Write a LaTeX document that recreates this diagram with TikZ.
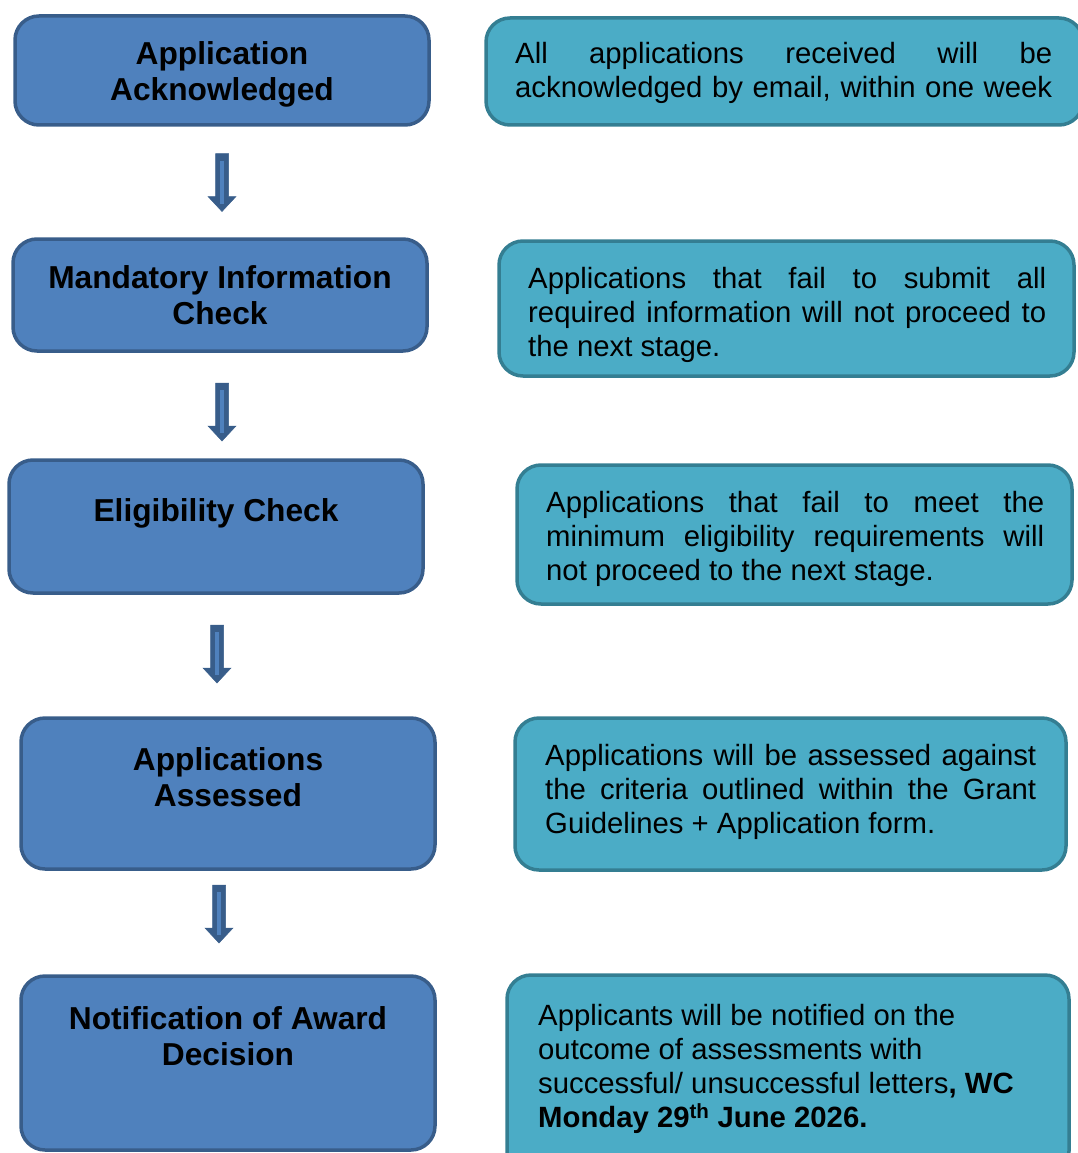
\documentclass[tikz,border=0pt]{standalone}
\usepackage{fontspec}
\setmainfont{Liberation Sans}
\definecolor{stagefill}{RGB}{79,129,189}
\definecolor{stageline}{RGB}{56,93,138}
\definecolor{notefill}{RGB}{75,172,198}
\definecolor{noteline}{RGB}{52,126,146}
\begin{document}
\begin{tikzpicture}
  [
    x=1pt, y=-1pt,
    box/.style={rectangle, rounded corners=24pt, line width=3.5pt, inner sep=0pt},
    stage/.style={box, fill=stagefill, draw=stageline},
    note/.style={box, fill=notefill, draw=noteline},
    stagetext/.style={inner sep=0pt, anchor=north, align=center,
      font=\fontsize{31.7}{36.5}\selectfont\bfseries},
    notetext/.style={inner sep=0pt, anchor=north west, align=justify,
      font=\fontsize{29.3}{33.7}\selectfont},
    downarrow/.style={fill=stageline, draw=stageline, line width=0.5pt, line join=miter},
    arrowstripe/.style={stagefill, line width=3.5pt}
  ]
  \useasboundingbox (0,0) rectangle (1077,1153);

  % stages
  \node[stage, minimum width=414pt, minimum height=109pt] (ack)    at (222,70.5) {};
  \node[stage, minimum width=414pt, minimum height=112pt] (info)   at (220,295) {};
  \node[stage, minimum width=414pt, minimum height=133pt] (elig)   at (216,526.5) {};
  \node[stage, minimum width=414pt, minimum height=151pt] (assess) at (228,793.5) {};
  \node[stage, minimum width=414pt, minimum height=174pt] (notify) at (228,1063) {};

  \node[stagetext] (ackt)    at (222,41)  {Application\\Acknowledged};
  \node[stagetext] (infot)   at (220,265) {Mandatory Information\\Check};
  \node[stagetext] (eligt)   at (216,498) {Eligibility Check};
  \node[stagetext] (assesst) at (228,747) {Applications\\Assessed};
  \node[stagetext] (notifyt) at (228,1006) {Notification of Award\\Decision};

  % notes
  \node[note, minimum width=597pt, minimum height=107pt] (acknote)    at (784.5,71.5) {};
  \node[note, minimum width=575pt, minimum height=135pt] (infonote)   at (786.5,308.5) {};
  \node[note, minimum width=555pt, minimum height=139pt] (eligenote)  at (794.5,534.5) {};
  \node[note, minimum width=551pt, minimum height=152pt] (assessnote) at (790.5,794) {};
  \node[note, minimum width=562pt, minimum height=200pt] (notifynote) at (788,1075) {};

  \node[notetext, text width=537pt] (acknotet) at (515,42.5)
    {All applications received will be\linebreak acknowledged by email, within one week\linebreak\null};
  \node[notetext, text width=518pt] (infonotet) at (528,267.5)
    {Applications that fail to submit all\linebreak required information will not proceed to\linebreak the next stage.};
  \node[notetext, text width=498pt] (eligenotet) at (546,491.5)
    {Applications that fail to meet the\linebreak minimum eligibility requirements will\linebreak not proceed to the next stage.};
  \node[notetext, text width=491pt] (assessnotet) at (545,744.5)
    {Applications will be assessed against\linebreak the criteria outlined within the Grant\linebreak Guidelines + Application form.};
  \node[notetext, align=left] (notifynotet) at (538,1004.5)
    {Applicants will be notified on the\\outcome of assessments with\\successful/ unsuccessful letters\textbf{, WC}\\\textbf{Monday 29\textsuperscript{th} June 2026.}};

  % arrows between stages
  \foreach \ax/\ay [count=\i] in {222/182.5, 222/412, 217/654, 219/914}
  {
    \coordinate (arrow\i) at (\ax,\ay);
    \filldraw[downarrow] ([shift={(-6.5,-29)}]arrow\i) -- ++(13,0) -- ++(0,43)
      -- ++(7.5,0) -- ([shift={(0,29)}]arrow\i) -- ++(-14,-15) -- ++(7.5,0) -- cycle;
    \draw[arrowstripe] ([shift={(0,-22)}]arrow\i) -- ([shift={(0,21)}]arrow\i);
  }
\end{tikzpicture}
\end{document}
